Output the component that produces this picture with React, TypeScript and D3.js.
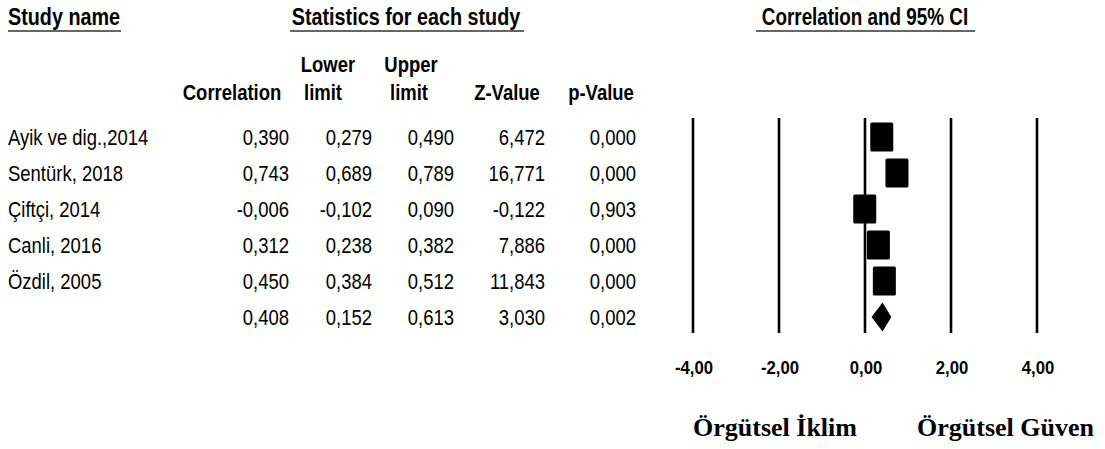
import React from "react";
import * as d3 from "d3";

// Study-level results
const studies = ["Ayik ve dig.,2014", "Sentürk, 2018", "Çiftçi, 2014", "Canli, 2016", "Özdil, 2005", ""];
const correlation = [0.39, 0.743, -0.006, 0.312, 0.45, 0.408];
const lowerLimit = [0.279, 0.689, -0.102, 0.238, 0.384, 0.152];
const upperLimit = [0.49, 0.789, 0.09, 0.382, 0.512, 0.613];
const zValue = [6.472, 16.771, -0.122, 7.886, 11.843, 3.03];
const pValue = [0.0, 0.0, 0.903, 0.0, 0.0, 0.002];
const isSummary = [false, false, false, false, false, true];

const axisTicks = [-4, -2, 0, 2, 4];
const leftLabel = "Örgütsel İklim";
const rightLabel = "Örgütsel Güven";

const fmt = (v: number, digits = 3) => {
  const s = Math.abs(v).toFixed(digits).replace(".", ",");
  return v < 0 ? "-" + s : s;
};

const W = 1105;
const H = 449;
const SANS = "'Liberation Sans', Arial, sans-serif";
const SERIF = "'Liberation Serif', 'Times New Roman', serif";

// Condensed sans text: horizontally squeezed around its anchor point
function NText({
  x,
  y,
  anchor = "start",
  size = 22,
  bold = false,
  sx = 0.84,
  children,
}: {
  x: number;
  y: number;
  anchor?: "start" | "middle" | "end";
  size?: number;
  bold?: boolean;
  sx?: number;
  children: React.ReactNode;
}) {
  return (
    <text
      transform={`translate(${x},${y}) scale(${sx},1)`}
      textAnchor={anchor}
      fontFamily={SANS}
      fontSize={size}
      fontWeight={bold ? "bold" : "normal"}
      fill="#000"
    >
      {children}
    </text>
  );
}

export default function App() {
  const x = d3.scaleLinear().domain([-4, 4]).range([693, 1037]);
  const y = d3.scaleLinear().domain([0, 5]).range([137, 317]);
  const lineTop = 118;
  const lineBottom = 333;

  const columns = [
    { values: correlation, right: 289 },
    { values: lowerLimit, right: 372 },
    { values: upperLimit, right: 454 },
    { values: zValue, right: 545 },
    { values: pValue, right: 636 },
  ];

  const boxW = 23;
  const boxH = 29;

  return (
    <svg width={W} height={H} style={{ position: "absolute", left: 0, top: 0, background: "#fff" }}>
      {/* Section headers */}
      <NText x={8} y={25} size={23} bold sx={0.86}>Study name</NText>
      <NText x={406} y={25} size={23} bold sx={0.86} anchor="middle">Statistics for each study</NText>
      <NText x={865} y={25} size={23} bold sx={0.82} anchor="middle">Correlation and 95% CI</NText>
      <g stroke="#333" strokeWidth={1.5}>
        <line x1={8} x2={121} y1={31} y2={31} />
        <line x1={290} x2={524} y1={31} y2={31} />
        <line x1={756} x2={975} y1={31} y2={31} />
      </g>

      {/* Column headers */}
      <NText x={232} y={100} bold anchor="middle">Correlation</NText>
      <NText x={328} y={72} bold anchor="middle">Lower</NText>
      <NText x={323} y={100} bold anchor="middle">limit</NText>
      <NText x={411} y={72} bold anchor="middle">Upper</NText>
      <NText x={409} y={100} bold anchor="middle">limit</NText>
      <NText x={507} y={100} bold anchor="middle">Z-Value</NText>
      <NText x={601} y={100} bold anchor="middle">p-Value</NText>

      {/* Table rows */}
      {studies.map((name, i) => (
        <g key={i}>
          <NText x={8} y={y(i) + 8}>{name}</NText>
          {columns.map((c, j) => (
            <NText key={j} x={c.right} y={y(i) + 8} anchor="end">
              {fmt(c.values[i])}
            </NText>
          ))}
        </g>
      ))}

      {/* Reference lines */}
      <g stroke="#000" strokeWidth={2.6}>
        {axisTicks.map((t) => (
          <line key={t} x1={x(t)} x2={x(t)} y1={lineTop} y2={lineBottom} />
        ))}
      </g>

      {/* Study effects and pooled estimate */}
      <g fill="#000">
        {correlation.map((r, i) =>
          isSummary[i] ? (
            <path
              key={i}
              d={`M${x(lowerLimit[i])},${y(i)} L${x(r)},${y(i) - 14.5} L${x(upperLimit[i])},${y(i)} L${x(r)},${y(i) + 14.5} Z`}
            />
          ) : (
            <rect key={i} x={x(r) - boxW / 2} y={y(i) - boxH / 2} width={boxW} height={boxH} rx={1.5} />
          )
        )}
      </g>

      {/* Axis tick labels */}
      {axisTicks.map((t) => (
        <NText key={t} x={x(t) + 1} y={374} size={19} bold sx={0.88} anchor="middle">
          {fmt(t, 2)}
        </NText>
      ))}

      {/* Direction labels */}
      <g fontFamily={SERIF} fontWeight="bold" fontSize={26} fill="#000">
        <text x={693} y={436}>{leftLabel}</text>
        <text x={917} y={436}>{rightLabel}</text>
      </g>
    </svg>
  );
}
